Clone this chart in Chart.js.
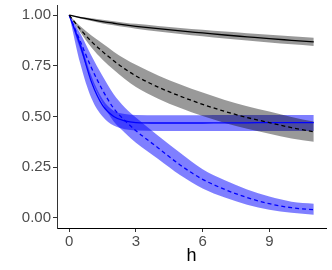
<!DOCTYPE html>
<html>
<head>
<meta charset="utf-8">
<script src="https://cdn.jsdelivr.net/npm/chart.js@4"></script>
<style>
  html, body { margin: 0; padding: 0; background: #fff; }
  #wrap { width: 332px; height: 270px; }
</style>
</head>
<body>
<div id="wrap"><canvas id="chart"></canvas></div>
<script>
// horizon values
const hSteps = [0, 0.5, 1, 1.5, 2, 2.5, 3, 4, 5, 6, 7, 8, 9, 10, 11];

// black solid
const blackSolid    = [1, 0.988, 0.978, 0.968, 0.960, 0.952, 0.945, 0.933, 0.922, 0.912, 0.902, 0.893, 0.884, 0.876, 0.868];
const blackSolidHi  = [1, 0.992, 0.985, 0.977, 0.970, 0.963, 0.957, 0.947, 0.937, 0.928, 0.919, 0.911, 0.903, 0.896, 0.888];
const blackSolidLo  = [1, 0.984, 0.971, 0.959, 0.950, 0.941, 0.933, 0.919, 0.907, 0.896, 0.885, 0.875, 0.865, 0.856, 0.848];

// black dashed
const blackDashed   = [1, 0.930, 0.870, 0.820, 0.775, 0.735, 0.700, 0.645, 0.600, 0.560, 0.525, 0.495, 0.470, 0.445, 0.425];
const blackDashedHi = [1, 0.945, 0.900, 0.860, 0.820, 0.785, 0.755, 0.702, 0.658, 0.618, 0.582, 0.551, 0.525, 0.498, 0.475];
const blackDashedLo = [1, 0.915, 0.840, 0.780, 0.730, 0.685, 0.645, 0.588, 0.542, 0.502, 0.468, 0.439, 0.415, 0.392, 0.375];

// blue solid
const blueSolid     = [1, 0.850, 0.670, 0.555, 0.500, 0.478, 0.470, 0.468, 0.468, 0.468, 0.469, 0.469, 0.470, 0.470, 0.470];
const blueSolidHi   = [1, 0.870, 0.700, 0.585, 0.528, 0.512, 0.507, 0.506, 0.506, 0.506, 0.507, 0.507, 0.508, 0.508, 0.508];
const blueSolidLo   = [1, 0.760, 0.590, 0.500, 0.455, 0.437, 0.431, 0.429, 0.429, 0.429, 0.429, 0.429, 0.429, 0.428, 0.428];

// blue dashed
const blueDashed    = [1, 0.870, 0.740, 0.630, 0.540, 0.480, 0.430, 0.345, 0.260, 0.190, 0.140, 0.100, 0.070, 0.050, 0.040];
const blueDashedHi  = [1, 0.910, 0.800, 0.700, 0.610, 0.545, 0.495, 0.405, 0.320, 0.240, 0.185, 0.140, 0.105, 0.080, 0.070];
const blueDashedLo  = [1, 0.830, 0.680, 0.565, 0.475, 0.420, 0.370, 0.290, 0.210, 0.145, 0.100, 0.065, 0.040, 0.025, 0.015];

const xTicks = [0, 3, 6, 9];
const yTicks = [0, 0.25, 0.5, 0.75, 1];

const GREY_FILL = "rgba(0,0,0,0.4)";
const BLUE_FILL = "rgba(0,0,255,0.5)";

function pts(vals) {
  return vals.map((v, i) => ({ x: hSteps[i], y: v }));
}

function band(hi, lo, color) {
  return [
    { data: pts(hi), borderWidth: 0, pointRadius: 0, fill: false, order: 2,
      cubicInterpolationMode: "monotone" },
    { data: pts(lo), borderWidth: 0, pointRadius: 0, fill: "-1", backgroundColor: color, order: 2,
      cubicInterpolationMode: "monotone" }
  ];
}

function line(vals, color, dashed) {
  return {
    data: pts(vals), borderColor: color, borderWidth: 1.3, pointRadius: 0, fill: false,
    borderDash: dashed ? [4, 3] : [], order: 1, cubicInterpolationMode: "monotone"
  };
}

const datasets = [
  ...band(blackSolidHi, blackSolidLo, GREY_FILL),
  ...band(blackDashedHi, blackDashedLo, GREY_FILL),
  ...band(blueSolidHi, blueSolidLo, BLUE_FILL),
  ...band(blueDashedHi, blueDashedLo, BLUE_FILL),
  line(blackSolid, "#000000", false),
  line(blackDashed, "#000000", true),
  line(blueSolid, "#0000ff", false),
  line(blueDashed, "#0000ff", true)
];

const tickFont = { family: "Liberation Sans", size: 15 };

new Chart(document.getElementById("chart"), {
  type: "line",
  data: { datasets },
  options: {
    responsive: true,
    maintainAspectRatio: false,
    animation: false,
    layout: { padding: { left: 0, right: 6, top: 5, bottom: 0 } },
    plugins: { legend: { display: false }, tooltip: { enabled: false } },
    scales: {
      x: {
        type: "linear",
        min: -0.55, max: 11.55,
        afterBuildTicks: s => { s.ticks = xTicks.map(v => ({ value: v })); },
        afterFit: s => { s.height = 42; s.paddingLeft = 0; s.paddingRight = 0; },
        grid: { display: true, drawOnChartArea: false, drawTicks: true, tickLength: 4, color: "#333" },
        border: { display: true, color: "#000", width: 1 },
        ticks: { color: "#4d4d4d", font: tickFont, padding: 1, maxRotation: 0 },
        title: { display: true, text: "h", color: "#000", font: { family: "Liberation Sans", size: 18 }, padding: { top: 0, bottom: 3 } }
      },
      y: {
        min: -0.05, max: 1.05,
        afterBuildTicks: s => { s.ticks = yTicks.map(v => ({ value: v })); },
        afterFit: s => { s.width = 57; s.paddingTop = 0; s.paddingBottom = 0; },
        grid: { display: true, drawOnChartArea: false, drawTicks: true, tickLength: 4, color: "#333" },
        border: { display: true, color: "#333", width: 1 },
        ticks: { color: "#4d4d4d", font: tickFont, padding: 2, callback: v => v.toFixed(2) }
      }
    }
  }
});
</script>
</body>
</html>
